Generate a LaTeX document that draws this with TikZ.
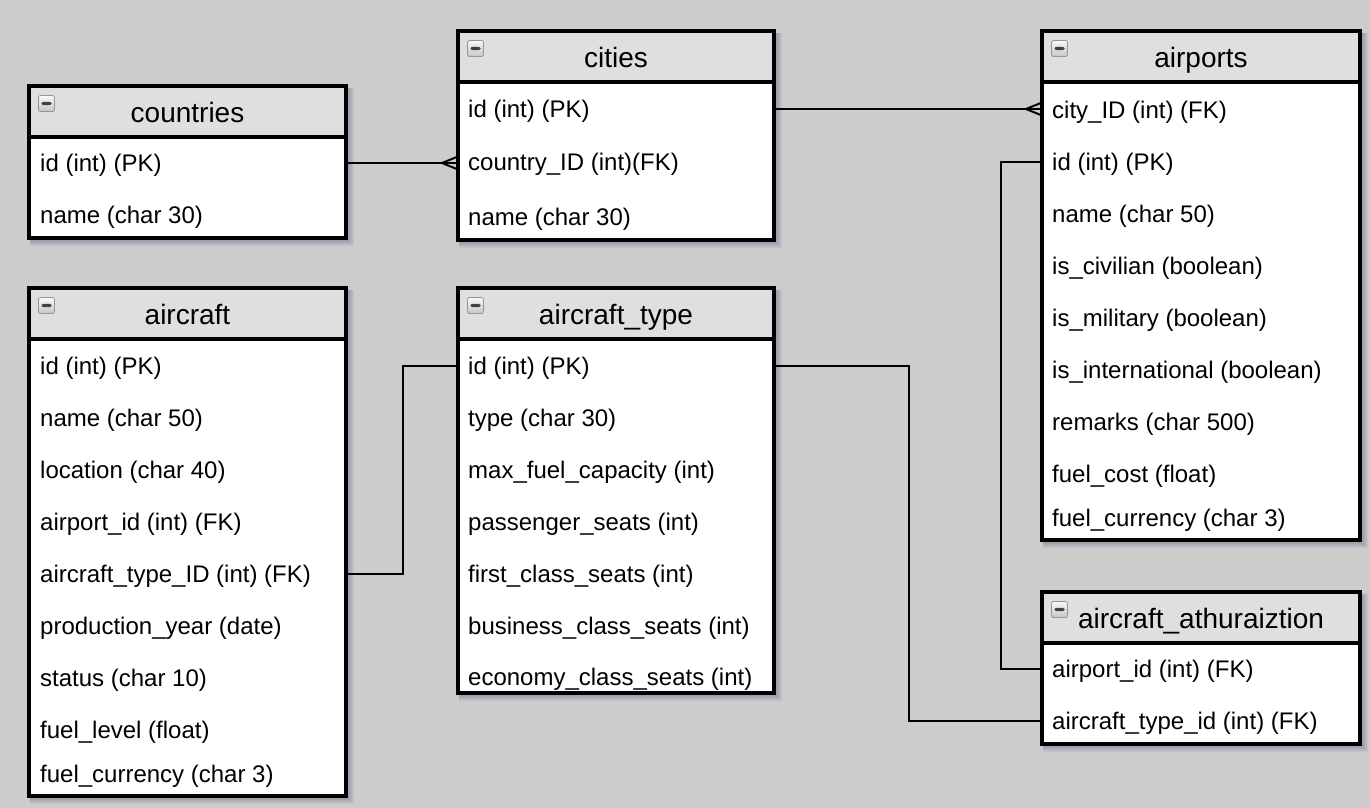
\documentclass[tikz,border=0pt]{standalone}
\usepackage{fontspec}
\setmainfont{Liberation Sans}
\usetikzlibrary{calc}
\definecolor{bgc}{HTML}{CCCCCC}
\definecolor{hdrc}{HTML}{DFDFDF}
\definecolor{shadowc}{HTML}{50507A}
\definecolor{iconedge}{HTML}{8C98A6}
\tikzset{
  tblbody/.style={rectangle, fill=white, inner sep=0pt, outer sep=0pt},
  border/.style={draw=black, line width=4pt, line join=miter},
  sepline/.style={draw=black, line width=3.5pt},
  titlenode/.style={inner sep=0pt, text height=18pt, text depth=0pt, font=\fontsize{28}{32}\selectfont},
  rownode/.style={anchor=west, inner sep=0pt, text height=16pt, text depth=0pt, font=\fontsize{24}{28}\selectfont},
  iconnode/.style={rectangle, rounded corners=2pt, minimum width=16pt, minimum height=16pt, inner sep=0pt,
    draw=iconedge, line width=0.8pt, top color=white!95!gray, bottom color=gray!45,
    path picture={\fill[black!75] ([xshift=-5pt,yshift=-1.6pt]path picture bounding box.center) rectangle ([xshift=5pt,yshift=1.6pt]path picture bounding box.center);}},
  conn/.style={draw=black, line width=2pt},
}
% #1 name, #2 x1, #3 y1, #4 x2, #5 y2, #6 title
\newcommand\erbox[6]{%
  \foreach \s in {1,...,7}{\fill[shadowc, opacity=0.07] (#2+1,#3+2) rectangle (#4+1+\s,#5+1+\s);}
  \node[tblbody, anchor=north west, minimum width={#4-#2}, minimum height={#5-#3}] (#1) at (#2,#3) {};
  \fill[hdrc] (#1.north west) rectangle ([yshift=-51pt]#1.north east);
  \draw[sepline] ([yshift=-51pt]#1.north west) -- ([yshift=-51pt]#1.north east);
  \draw[border] (#1.north west) rectangle (#1.south east);
  \node[iconnode] (#1-icon) at ([xshift=17.5pt,yshift=-17.5pt]#1.north west) {};
  \node[titlenode] (#1-title) at ([yshift=-27.5pt]#1.north) {#6};
}
\begin{document}
\begin{tikzpicture}[x=1pt,y=-1pt]
\fill[bgc] (0,0) rectangle (1370,808);
\useasboundingbox (0,0) rectangle (1370,808);

% ---------- tables ----------
\erbox{countries}{29}{86}{346}{238}{countries}
\erbox{cities}{458}{31}{774}{240}{cities}
\erbox{airports}{1042}{31}{1360}{540}{airports}
\erbox{aircraft}{29}{288}{346}{796}{aircraft}
\erbox{actype}{458}{288}{774}{693}{aircraft\_type}
\erbox{auth}{1042}{592}{1360}{744}{aircraft\_athuraiztion}

% ---------- rows ----------
\node[rownode] (countries-r1) at (40,163) {id (int) (PK)};
\node[rownode] (countries-r2) at (40,215) {name (char 30)};

\node[rownode] (cities-r1) at (468,109) {id (int) (PK)};
\node[rownode] (cities-r2) at (468,162) {country\_ID (int)(FK)};
\node[rownode] (cities-r3) at (468,217) {name (char 30)};

\node[rownode] (airports-r1) at (1052,110) {city\_ID (int) (FK)};
\node[rownode] (airports-r2) at (1052,162) {id (int) (PK)};
\node[rownode] (airports-r3) at (1052,214) {name (char 50)};
\node[rownode] (airports-r4) at (1052,266) {is\_civilian (boolean)};
\node[rownode] (airports-r5) at (1052,318) {is\_military (boolean)};
\node[rownode] (airports-r6) at (1052,370) {is\_international (boolean)};
\node[rownode] (airports-r7) at (1052,422) {remarks (char 500)};
\node[rownode] (airports-r8) at (1052,474) {fuel\_cost (float)};
\node[rownode] (airports-r9) at (1052,518) {fuel\_currency (char 3)};

\node[rownode] (aircraft-r1) at (40,366) {id (int) (PK)};
\node[rownode] (aircraft-r2) at (40,418) {name (char 50)};
\node[rownode] (aircraft-r3) at (40,470) {location (char 40)};
\node[rownode] (aircraft-r4) at (40,522) {airport\_id (int) (FK)};
\node[rownode] (aircraft-r5) at (40,574) {aircraft\_type\_ID (int) (FK)};
\node[rownode] (aircraft-r6) at (40,626) {production\_year (date)};
\node[rownode] (aircraft-r7) at (40,678) {status (char 10)};
\node[rownode] (aircraft-r8) at (40,730) {fuel\_level (float)};
\node[rownode] (aircraft-r9) at (40,774) {fuel\_currency (char 3)};

\node[rownode] (actype-r1) at (468,366) {id (int) (PK)};
\node[rownode] (actype-r2) at (468,418) {type (char 30)};
\node[rownode] (actype-r3) at (468,470) {max\_fuel\_capacity (int)};
\node[rownode] (actype-r4) at (468,522) {passenger\_seats (int)};
\node[rownode] (actype-r5) at (468,574) {first\_class\_seats (int)};
\node[rownode] (actype-r6) at (468,626) {business\_class\_seats (int)};
\node[rownode] (actype-r7) at (468,677) {economy\_class\_seats (int)};

\node[rownode] (auth-r1) at (1052,669) {airport\_id (int) (FK)};
\node[rownode] (auth-r2) at (1052,721) {aircraft\_type\_id (int) (FK)};

% ---------- connectors ----------
\coordinate (j1) at (1001,0);
\coordinate (j2) at (403,0);
\coordinate (j3) at (909,0);

% countries -> cities (crow's foot at cities)
\draw[conn] (countries.east |- countries-r1) -- (cities.west |- countries-r1) coordinate (cf1);
\draw[conn] ([xshift=-16pt]cf1) -- ([yshift=6.5pt]cf1) ([xshift=-16pt]cf1) -- ([yshift=-6.5pt]cf1);

% cities -> airports (crow's foot at airports)
\draw[conn] (cities.east |- cities-r1) -- (airports.west |- cities-r1) coordinate (cf2);
\draw[conn] ([xshift=-16pt]cf2) -- ([yshift=6.5pt]cf2) ([xshift=-16pt]cf2) -- ([yshift=-6.5pt]cf2);

% airports -> aircraft_athuraiztion
\draw[conn] (airports.west |- airports-r2) -- (j1 |- airports-r2) -- (j1 |- auth-r1) -- (auth.west |- auth-r1);

% aircraft_type -> aircraft
\draw[conn] (actype.west |- actype-r1) -- (j2 |- actype-r1) -- (j2 |- aircraft-r5) -- (aircraft.east |- aircraft-r5);

% aircraft_type -> aircraft_athuraiztion
\draw[conn] (actype.east |- actype-r1) -- (j3 |- actype-r1) -- (j3 |- auth-r2) -- (auth.west |- auth-r2);
\end{tikzpicture}
\end{document}
